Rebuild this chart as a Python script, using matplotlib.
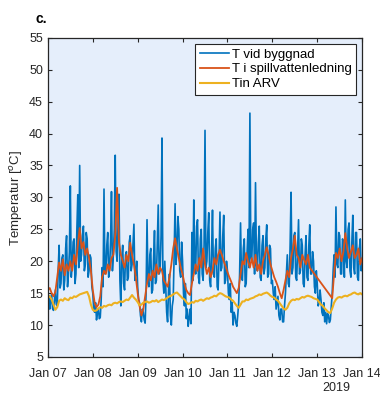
import numpy as np
import pandas as pd
import matplotlib
matplotlib.use('Agg')
import matplotlib.pyplot as plt
import matplotlib.dates as mdates

plt.rcParams['font.family'] = ['Liberation Sans', 'DejaVu Sans']
plt.rcParams['font.size'] = 9

# building sensor, every 30 min, 2019-01-07 00:00 -> 2019-01-14 00:00
t_byggnad = [
    # Jan 07
    13.5, 14.6, 12.5, 13.8, 14.8, 12.6, 12.3, 14.0, 15.5, 13.2, 13.0, 18.5,
    22.5, 15.8, 16.5, 20.5, 21.0, 15.5, 17.0, 22.0, 24.0, 16.0, 18.0, 21.5,
    31.8, 17.5, 19.5, 23.0, 23.5, 16.5, 18.0, 25.0, 30.4, 19.0, 35.0, 20.0,
    21.0, 24.0, 25.5, 18.5, 19.5, 24.5, 23.5, 17.5, 18.5, 21.0, 20.5, 16.0,
    # Jan 08
    15.0, 12.5, 12.0, 13.5, 10.8, 12.0, 12.5, 11.0, 11.2, 14.0, 19.0, 16.0,
    31.3, 18.0, 18.5, 22.5, 24.5, 17.5, 19.0, 23.0, 30.9, 18.5, 21.0, 25.0,
    36.6, 21.5, 20.0, 26.0, 30.5, 17.0, 13.0, 20.5, 22.5, 16.5, 15.5, 21.0,
    21.5, 17.0, 17.5, 23.0, 24.0, 18.5, 19.5, 22.5, 25.8, 17.0, 18.0, 20.0,
    # Jan 09
    16.0, 14.0, 13.5, 11.5, 10.5, 12.5, 12.0, 10.8, 10.3, 15.0, 26.5, 17.0,
    16.0, 21.0, 22.0, 15.0, 15.5, 20.5, 24.8, 16.5, 17.0, 23.0, 28.8, 18.0,
    18.5, 24.0, 39.3, 17.0, 15.0, 20.0, 16.0, 12.0, 10.5, 15.5, 18.0, 11.5,
    10.0, 13.0, 14.0, 21.0, 29.0, 19.5, 22.0, 27.0, 25.0, 18.5, 17.5, 23.0,
    # Jan 10
    20.0, 15.0, 13.0, 16.5, 11.0, 12.5, 9.8, 11.0, 12.5, 10.2, 24.5, 17.0,
    29.6, 20.0, 18.0, 25.5, 26.5, 17.5, 16.5, 23.5, 25.0, 18.0, 17.0, 22.5,
    40.5, 19.0, 20.0, 24.5, 27.6, 17.0, 16.0, 21.5, 28.0, 18.0, 17.5, 22.0,
    23.5, 16.0, 15.5, 20.5, 27.7, 18.5, 19.0, 24.0, 27.2, 16.5, 17.0, 20.0,
    # Jan 11
    18.5, 15.0, 14.0, 16.5, 12.0, 13.5, 10.0, 12.0, 11.5, 10.3, 9.8, 11.5,
    13.5, 18.0, 26.0, 17.5, 17.0, 22.0, 23.5, 16.0, 16.5, 21.5, 25.0, 19.0,
    43.2, 20.5, 20.0, 25.0, 26.0, 18.0, 32.3, 19.5, 18.5, 23.0, 25.5, 17.5,
    17.0, 22.5, 24.0, 18.0, 19.0, 23.5, 25.7, 17.5, 18.0, 22.5, 22.0, 16.5,
    # Jan 12
    17.0, 15.0, 14.0, 16.0, 12.5, 13.5, 14.5, 11.5, 10.8, 12.5, 12.5, 10.5,
    10.5, 13.0, 15.0, 18.0, 21.0, 16.5, 16.0, 22.5, 30.8, 18.0, 19.0, 24.0,
    24.5, 17.5, 17.0, 22.0, 26.5, 18.0, 18.5, 23.5, 22.5, 16.5, 16.0, 21.0,
    24.0, 17.5, 17.0, 22.5, 25.7, 18.0, 18.0, 21.5, 20.0, 16.0, 15.0, 18.5,
    # Jan 13
    16.5, 13.0, 13.5, 15.5, 14.0, 12.0, 11.5, 13.5, 10.5, 12.0, 10.2, 11.8,
    11.5, 10.4, 10.8, 13.0, 15.0, 18.5, 21.0, 17.5, 28.5, 19.5, 19.0, 24.5,
    24.0, 18.0, 18.0, 23.5, 23.0, 17.5, 29.6, 20.0, 19.0, 25.0, 26.0, 18.5,
    17.5, 23.0, 27.2, 19.0, 18.0, 24.5, 24.5, 17.5, 17.0, 22.0, 23.5, 18.5,
    # Jan 14
    20.0,
]

# sewer pipe and plant inlet, hourly
t_spillvatten = [
    # Jan 07
    15.5, 15.8, 15.0, 14.5, 15.2, 17.5, 19.8, 18.5, 20.3, 17.8, 19.5, 18.5,
    20.0, 18.5, 21.0, 19.5, 22.5, 25.2, 22.0, 23.0, 21.0, 22.0, 20.5, 18.5,
    # Jan 08
    15.5, 13.5, 12.8, 13.2, 14.5, 17.5, 18.5, 18.0, 19.5, 18.5, 20.5, 21.0,
    24.0, 31.5, 23.0, 21.0, 20.0, 19.0, 21.0, 20.0, 22.9, 21.0, 19.5, 17.5,
    # Jan 09
    15.0, 13.0, 11.5, 12.5, 14.5, 16.5, 18.0, 17.0, 18.5, 17.5, 19.5, 18.0,
    19.0, 18.5, 17.0, 16.5, 16.0, 17.5, 19.5, 22.0, 23.6, 22.0, 20.5, 19.0,
    # Jan 10
    18.0, 16.5, 15.5, 15.0, 14.7, 16.5, 18.0, 19.5, 18.5, 20.5, 19.0, 22.0,
    19.5, 18.0, 19.0, 17.5, 18.5, 20.5, 19.5, 21.0, 21.8, 21.0, 20.0, 19.2,
    # Jan 11
    18.3, 17.5, 16.8, 16.0, 15.5, 15.0, 15.8, 18.0, 20.0, 19.5, 21.3, 20.0,
    19.0, 20.5, 19.0, 21.0, 18.5, 19.5, 18.0, 20.0, 21.0, 22.2, 21.0, 19.5,
    # Jan 12
    18.5, 17.5, 16.8, 16.0, 15.0, 14.2, 15.5, 17.0, 18.5, 17.5, 20.5, 22.0,
    24.0, 21.0, 20.5, 19.0, 21.0, 20.2, 19.5, 21.0, 19.0, 18.6, 18.2, 17.8,
    # Jan 13
    17.4, 17.0, 16.6, 16.2, 15.8, 15.4, 15.0, 14.6, 14.2, 18.0, 21.3, 20.5,
    22.0, 20.0, 21.5, 24.4, 22.0, 20.5, 21.5, 22.5, 20.5, 21.0, 22.0, 19.5,
    # Jan 14
    20.5,
]

t_in_arv = [
    # Jan 07
    14.3, 14.5, 14.0, 13.2, 12.4, 12.8, 13.8, 14.0, 13.8, 14.2, 14.0, 13.9,
    14.3, 14.2, 14.5, 14.4, 14.6, 14.8, 14.9, 15.0, 15.1, 15.2, 14.5, 13.2,
    # Jan 08
    12.4, 12.2, 12.3, 12.6, 12.8, 12.7, 13.0, 12.9, 13.1, 13.2, 13.1, 13.4,
    13.5, 13.4, 13.6, 13.7, 13.6, 13.8, 14.0, 13.9, 14.3, 14.7, 14.3, 14.0,
    # Jan 09
    13.6, 13.1, 13.2, 13.5, 13.6, 13.7, 13.5, 13.6, 13.8, 13.7, 13.9, 13.6,
    13.8, 14.0, 13.9, 14.1, 14.3, 14.5, 14.6, 14.8, 15.0, 15.1, 14.8, 14.5,
    # Jan 10
    14.2, 14.0, 13.6, 13.3, 13.4, 13.6, 13.5, 13.8, 13.7, 13.9, 14.0, 13.8,
    14.0, 14.2, 14.1, 14.3, 14.4, 14.6, 14.5, 14.8, 15.0, 14.9, 14.7, 14.5,
    # Jan 11
    14.4, 14.3, 14.0, 13.8, 13.4, 13.0, 12.7, 13.2, 13.7, 13.7, 14.0, 13.9,
    14.1, 14.2, 14.3, 14.5, 14.6, 14.8, 14.7, 14.9, 15.0, 15.1, 14.9, 14.6,
    # Jan 12
    14.4, 14.3, 14.0, 13.8, 13.4, 13.0, 12.6, 12.4, 12.7, 13.4, 13.8, 14.0,
    13.9, 14.1, 14.0, 14.2, 14.4, 14.3, 14.5, 14.6, 14.5, 14.4, 14.2, 14.1,
    # Jan 13
    14.0, 13.6, 13.2, 13.0, 12.6, 12.3, 12.0, 11.9, 12.6, 13.5, 14.0, 14.3,
    14.4, 14.3, 14.5, 14.6, 14.5, 14.7, 14.8, 15.0, 15.1, 14.9, 14.8, 15.0,
    # Jan 14
    14.8,
]

series_labels = ['T vid byggnad', 'T i spillvattenledning', 'Tin ARV']
series_colors = ['#0072BD', '#D95319', '#EDB120']

tid_30 = pd.date_range('2019-01-07 00:00', '2019-01-14 00:00', freq='30min')
tid_h = pd.date_range('2019-01-07 00:00', '2019-01-14 00:00', freq='h')

fig = plt.figure(figsize=(3.8, 3.94), dpi=100)
ax = fig.add_axes([0.126, 0.094, 0.827, 0.810])
ax.set_facecolor('#E5EEFB')

ax.plot(tid_30, t_byggnad, color=series_colors[0], lw=1.2,
        label=series_labels[0])
ax.plot(tid_h, t_spillvatten, color=series_colors[1], lw=1.3,
        label=series_labels[1])
ax.plot(tid_h, t_in_arv, color=series_colors[2], lw=1.5,
        label=series_labels[2])

ax.set_xlim(pd.Timestamp('2019-01-07'), pd.Timestamp('2019-01-14'))
ax.set_ylim(5, 55)
ax.set_yticks(np.arange(5, 56, 5))
ax.xaxis.set_major_locator(mdates.DayLocator())
ax.xaxis.set_major_formatter(mdates.DateFormatter('%b %d'))
ax.tick_params(direction='in', length=3, width=0.8, top=True, right=True,
               colors='#262626', labelcolor='#262626', labelsize=9)
ax.tick_params(axis='x', pad=8)
for sp in ax.spines.values():
    sp.set_color('#262626')
    sp.set_linewidth(0.9)

ax.set_ylabel('Temperatur [$^o$C]', fontsize=9.5, color='#262626', labelpad=3)
fig.text(350 / 380, 1 - 388 / 394, '2019', ha='right', va='center',
         fontsize=9, color='#262626')
fig.text(35 / 380, 1 - 19 / 394, 'c.', ha='left', va='center',
         fontsize=10, fontweight='bold')

leg = ax.legend(loc='upper right', fontsize=9.5, frameon=True, fancybox=False,
                framealpha=1, edgecolor='#262626', borderaxespad=0.45,
                handlelength=2.2, handletextpad=0.2, labelspacing=0.2,
                borderpad=0.35)
leg.get_frame().set_linewidth(0.8)

fig.savefig('out.png', dpi=100)
